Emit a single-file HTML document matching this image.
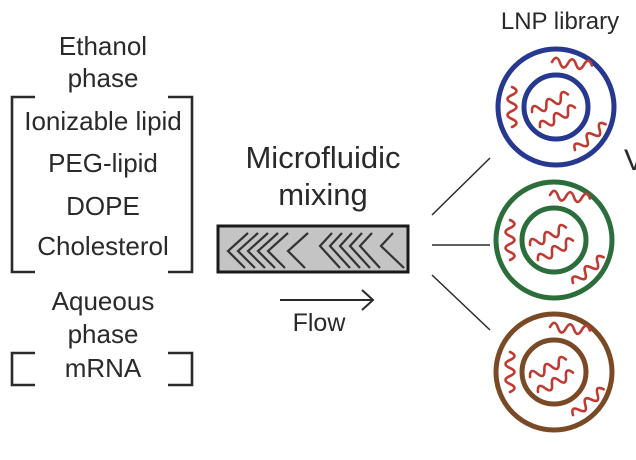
<!DOCTYPE html>
<html><head><meta charset="utf-8"><style>
html,body{margin:0;padding:0;background:#fff;}
svg{display:block;}
text{font-family:"Liberation Sans",sans-serif;fill:#2a2a2a;}
</style></head><body>
<svg width="636" height="460" viewBox="0 0 636 460" xmlns="http://www.w3.org/2000/svg">
<defs>
<path id="w" d="M0,0 q4,-9 8,0 t8,0 t8,0 t8,0 t8,0" fill="none" stroke="#c03a32" stroke-width="2.6" stroke-linecap="round"/>
<g id="waves">
<use href="#w" transform="translate(-4,-45) rotate(5)"/>
<use href="#w" transform="translate(-44,-20) rotate(90)"/>
<use href="#w" transform="translate(-24,5) rotate(-26)"/>
<use href="#w" transform="translate(-16,20) rotate(-29)"/>
<use href="#w" transform="translate(19,43) rotate(-40)"/>
</g>
</defs>
<g font-size="26" text-anchor="middle">
<text x="103" y="55">Ethanol</text>
<text x="103" y="87">phase</text>
<text x="103" y="130">Ionizable lipid</text>
<text x="103" y="172">PEG-lipid</text>
<text x="103" y="215">DOPE</text>
<text x="103" y="255">Cholesterol</text>
<text x="103" y="310">Aqueous</text>
<text x="103" y="343">phase</text>
<text x="103" y="377">mRNA</text>
<text x="323" y="168" font-size="31">Microfluidic</text>
<text x="323" y="205" font-size="31">mixing</text>
<text x="319" y="331" font-size="25">Flow</text>
<text x="560" y="29" font-size="24">LNP library</text>
<text x="624" y="170" font-size="30" text-anchor="start">V</text>
</g>
<g fill="none" stroke="#2a2a2a" stroke-width="2.6">
<path d="M35,97 H12 V272 H35"/>
<path d="M168,97 H192 V272 H168"/>
<path d="M35,353 H12 V385 H35"/>
<path d="M168,353 H192 V385 H168"/>
<path d="M280,300 H372 M362,290 L373,300 L362,310" stroke-width="2"/>
<path d="M432,215 L490,158 M432,245 H490 M432,275 L490,330" stroke-width="1.5"/>
</g>
<rect x="218" y="226" width="190" height="46" fill="#c4c4c4" stroke="#1a1a1a" stroke-width="3"/>
<g fill="none" stroke="#333" stroke-width="2.2">
<path d="M248,233 L228,251 L245,268"/>
<path d="M258,233 L238,251 L255,268"/>
<path d="M268,233 L248,251 L265,268"/>
<path d="M278,233 L258,251 L275,268"/>
<path d="M288,233 L268,251 L285,268"/>
<path d="M308,233 L288,251 L305,268"/>
<path d="M332,233 L320,246 L340,268"/>
<path d="M342,233 L330,246 L350,268"/>
<path d="M352,233 L340,246 L360,268"/>
<path d="M362,233 L350,246 L370,268"/>
<path d="M372,233 L360,246 L380,268"/>
<path d="M393,233 L381,246 L404,268"/>
</g>
<g fill="none" stroke-width="5">
<circle cx="556" cy="107" r="58" stroke="#26388f"/>
<circle cx="556" cy="107" r="32" stroke="#26388f"/>
<circle cx="554" cy="240" r="58" stroke="#2c6d3c"/>
<circle cx="554" cy="240" r="32" stroke="#2c6d3c"/>
<circle cx="554" cy="372" r="58" stroke="#7a4a26"/>
<circle cx="554" cy="372" r="32" stroke="#7a4a26"/>
</g>
<use href="#waves" transform="translate(556,107)"/>
<use href="#waves" transform="translate(554,240)"/>
<use href="#waves" transform="translate(554,372)"/>
</svg>
</body></html>
